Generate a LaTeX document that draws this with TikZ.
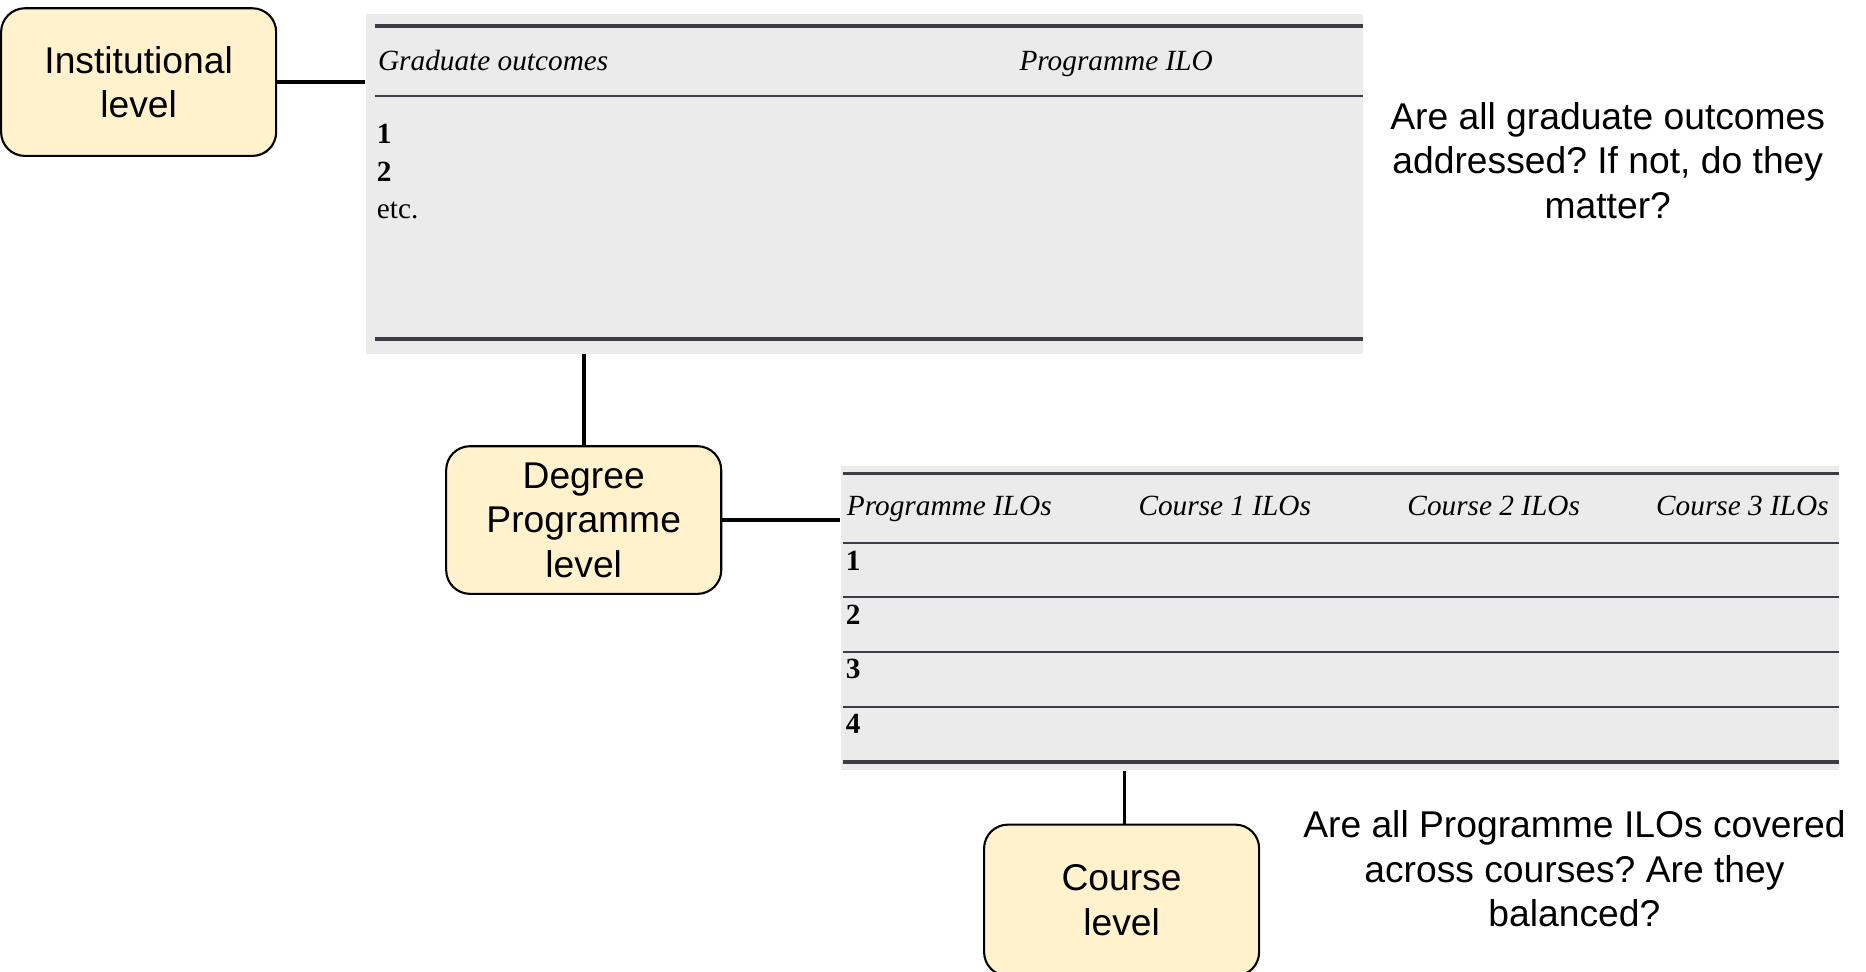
\documentclass[tikz,border=0pt]{standalone}
\usepackage{fontspec}
\setmainfont{Liberation Sans}
\newfontfamily\tabfont{Liberation Serif}
\usetikzlibrary{calc}
\definecolor{boxfill}{HTML}{FFF2CC}
\definecolor{tabfill}{HTML}{EAEBEA}
\definecolor{rulecol}{HTML}{3A3D45}
\frenchspacing

\begin{document}
\begin{tikzpicture}[x=0.01cm, y=-0.01cm,
    level/.style={draw, rounded corners=0.2cm, fill=boxfill, line width=0.5pt,
      minimum width=2.31cm, minimum height=1.24cm, inner sep=0pt, align=center,
      font=\fontsize{8.9}{10.6}\selectfont},
    tabbg/.style={fill=tabfill, inner sep=0pt},
    ask/.style={align=center, font=\fontsize{8.9}{10.6}\selectfont},
    head/.style={anchor=base west, inner sep=0pt, font=\tabfont\itshape\fontsize{7}{8.5}\selectfont},
    num/.style={anchor=base west, inner sep=0pt, font=\tabfont\bfseries\fontsize{7}{8.5}\selectfont},
    cell/.style={anchor=base west, inner sep=0pt, font=\tabfont\fontsize{7}{8.5}\selectfont},
    thickrule/.style={draw=rulecol, line width=0.8pt},
    thinrule/.style={draw=rulecol, line width=0.45pt},
    link/.style={line width=0.9pt}]
      \useasboundingbox (0,0) rectangle (1568,816);
      \clip (0,0) rectangle (1568,816);

      %% institutional level
      \node [level] (inst) at (116.5,69) {Institutional\\level};
      \node [tabbg, minimum width=8.37cm, minimum height=2.85cm] (gradtab) at (726.5,154.5) {};
      \draw [thickrule] (315,22) -- (1145,22);
      \draw [thinrule] (315,81) -- (1145,81);
      \draw [thickrule, line width=0.9pt] (315,285) -- (1145,285);
      \node [head] (gradhd) at (317,59) {Graduate outcomes};
      \node [head] (progilo) at (856,59) {Programme ILO};
      \foreach \n/\y in {1/120.4,2/152.7} \node [num] (grad\n) at (316,\y) {\n};
      \node [cell] (gradetc) at (316,183.5) {etc.};
      \node [ask] (q1) at (1351,135) {Are all graduate outcomes\\addressed? If not, do they\\matter?};

      %% degree programme level
      \node [level] (deg) at (490.5,437) {Degree\\Programme\\level};
      \node [tabbg, minimum width=8.38cm, minimum height=2.55cm] (ilotab) at (1126,519.5) {};
      \draw [thickrule] (708,398) -- (1545,398);
      \foreach \y in {456,502,548,594} \draw [thinrule] (708,\y) -- (1545,\y);
      \draw [thickrule, line width=0.9pt] (708,640) -- (1545,640);
      \foreach \x/\t [count=\i] in {711/Programme ILOs, 956/Course 1 ILOs,
          1182/Course 2 ILOs, 1391/Course 3 ILOs}
        \node [head] (hd\i) at (\x,433) {\t};
      \foreach \n/\y in {1/479,2/525,3/570,4/616} \node [num] (row\n) at (710,\y) {\n};

      %% course level
      \node [level, minimum height=1.27cm] (course) at (942.5,756.5) {Course\\level};
      \node [ask] (q2) at (1323,730) {Are all Programme ILOs covered\\across courses? Are they\\balanced?};

      %% links
      \draw [link] (inst.east) -- (inst.east -| gradtab.west);
      \draw [link] (deg.north) -- (deg.north |- gradtab.south);
      \draw [link] (deg.east) -- (deg.east -| ilotab.west);
      \draw [link] ([xshift=0.025cm]course.north) -- ([xshift=0.025cm]course.north |- ilotab.south);
\end{tikzpicture}
\end{document}
